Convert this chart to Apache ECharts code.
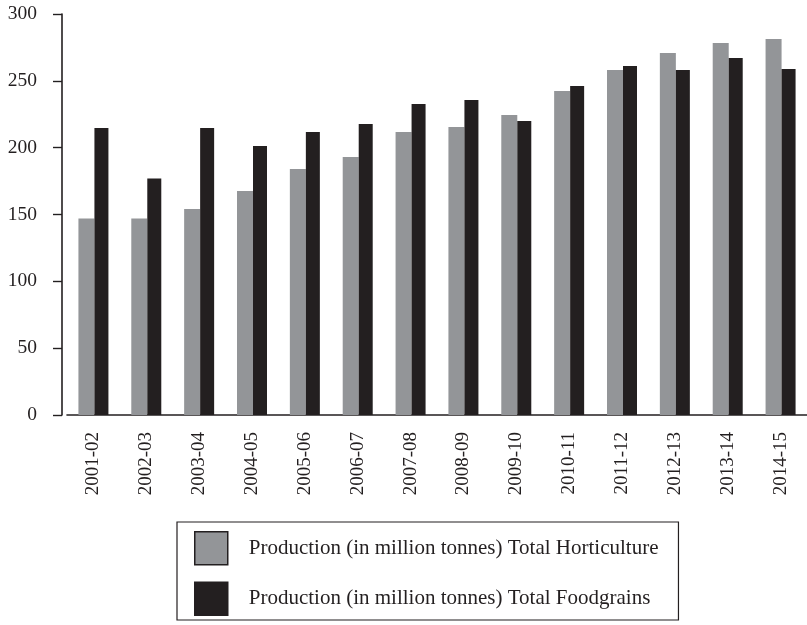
<!DOCTYPE html>
<html>
<head>
<meta charset="utf-8">
<script src="https://cdn.jsdelivr.net/npm/echarts@6/dist/echarts.min.js"></script>
<style>html,body{margin:0;padding:0;background:#fff}#c{width:807px;height:625px}</style>
</head>
<body>
<div id="c"></div>
<script>
const categories = ['2001-02','2002-03','2003-04','2004-05','2005-06','2006-07','2007-08','2008-09','2009-10','2010-11','2011-12','2012-13','2013-14','2014-15'];
const horticulture = [147.1, 147.0, 154.2, 167.6, 184.0, 193.0, 211.7, 215.5, 224.4, 242.4, 258.1, 270.8, 278.3, 281.3];
const foodgrains = [214.7, 177.0, 214.7, 201.2, 211.7, 217.7, 232.7, 235.7, 220.0, 246.1, 261.1, 258.1, 267.1, 258.9];
const seriesNames = ['Production (in million tonnes) Total Horticulture', 'Production (in million tonnes) Total Foodgrains'];
const yTicks = {min: 0, max: 300, interval: 50};

const FONT = '"Liberation Serif", "DejaVu Serif", serif';
const INK = '#231f20';
const chart = echarts.init(document.getElementById('c'));
chart.setOption({
  animation: false,
  backgroundColor: '#fff',
  grid: {left: 67, right: 0, top: 14, bottom: 210},
  legend: {
    orient: 'vertical',
    left: 177, top: 522,
    padding: [9, 20, 4, 17],
    borderColor: INK, borderWidth: 1.2,
    itemWidth: 33, itemHeight: 33, itemGap: 16,
    icon: 'rect',
    itemStyle: {borderColor: INK, borderWidth: 1.5},
    textStyle: {fontFamily: FONT, fontSize: 21, color: INK, padding: [0, 0, 0, 16]},
    data: seriesNames
  },
  xAxis: {
    type: 'category',
    data: categories,
    axisLine: {lineStyle: {color: INK, width: 1.6}},
    axisTick: {length: 7, lineStyle: {color: INK, width: 1.4}},
    axisLabel: {rotate: 90, margin: 17, fontFamily: FONT, fontSize: 19, color: INK}
  },
  yAxis: {
    type: 'value',
    min: yTicks.min, max: yTicks.max, interval: yTicks.interval,
    offset: 5,
    splitLine: {show: false},
    axisLine: {show: true, lineStyle: {color: INK, width: 1.6}},
    axisTick: {show: true, length: 9, lineStyle: {color: INK, width: 1.4}},
    axisLabel: {margin: 25, fontFamily: FONT, fontSize: 19.5, color: INK}
  },
  series: [
    {name: seriesNames[0], type: 'bar', data: horticulture, barWidth: 16, barGap: '0%', itemStyle: {color: '#939598'}},
    {name: seriesNames[1], type: 'bar', data: foodgrains, barWidth: 14, barGap: '0%', itemStyle: {color: INK}}
  ]
});
</script>
</body>
</html>
